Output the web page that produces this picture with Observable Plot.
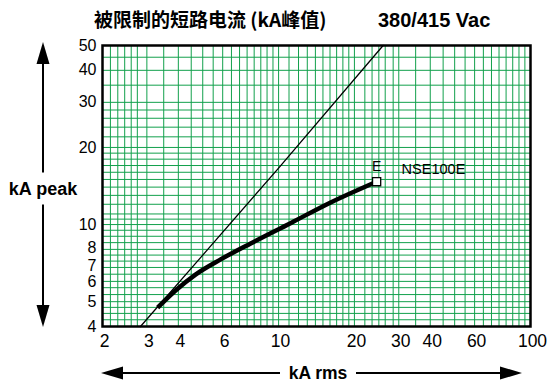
<!DOCTYPE html>
<html><head><meta charset="utf-8">
<script src="https://cdn.jsdelivr.net/npm/d3@7"></script>
<script src="https://cdn.jsdelivr.net/npm/@observablehq/plot@0.6"></script>
<style>
html,body{margin:0;padding:0;background:#fff;}
#wrap{position:relative;width:551px;height:383px;overflow:hidden;}
#title{position:relative;height:36px;}
#t1{position:absolute;left:94px;top:6px;font-family:"Noto Sans CJK SC",sans-serif;font-weight:bold;font-size:19px;line-height:26px;white-space:nowrap;}
#t2{position:absolute;left:378px;top:7px;font-family:"Liberation Sans",Arial,sans-serif;font-weight:bold;font-size:20px;line-height:26px;white-space:nowrap;}
svg{display:block;}
</style>
</head><body>
<div id="wrap">
  <div id="title"><span id="t1">被限制的短路电流 (kA峰值)</span><span id="t2">380/415 Vac</span></div>
  <div id="chart"></div>
</div>
<script>
// Tick labels
const xTicks = [2, 3, 4, 6, 10, 20, 30, 40, 60, 100];
const yTicks = [4, 5, 6, 7, 8, 10, 20, 30, 40, 50];
// Grid line values
const xGrid = [2.15, 2.3, 2.45, 2.6, 2.75, 3, 3.5, 4, 4.5, 5, 5.5, 6, 6.5, 7, 7.5, 8, 8.5, 9, 9.5, 10,
  11, 12, 13, 14, 15, 16, 17, 18, 19, 20, 22, 23.5, 25, 26.5, 28.5, 30, 35, 40, 45, 50, 55, 60, 65, 70, 75, 80, 85, 90, 95];
const yGrid = [4.25, 4.5, 4.75, 5, 5.33, 5.67, 6, 6.4, 6.8, 7.2, 7.6, 8, 8.5, 9, 9.5, 10, 10.5, 11, 12, 13, 14,
  15, 16, 17, 18, 19, 20, 22, 24, 26, 28, 30, 35, 40, 45];
// Unlimited peak line (kA rms -> kA peak)
const limitRms  = [2.83, 5, 10, 26];
const limitPeak = [4, 7.6, 16.6, 50];
// NSE100E limited peak curve
const curveRms  = [3.31, 3.9, 4.68, 5.89, 7.75, 11.2, 16.1, 24.5];
const curvePeak = [4.74, 5.53, 6.38, 7.31, 8.44, 10.15, 12.2, 14.7];
const deviceName = "NSE100E";
const deviceCode = "E";

const limitData = limitRms.map((x, i) => ({x, y: limitPeak[i]}));
const curveData = curveRms.map((x, i) => ({x, y: curvePeak[i]}));
const endPoint = [curveData[curveData.length - 1]];

const W = 551, H = 347, ML = 102, MR = 21, MT = 9, MB = 57;
const gridColor = "#12a04c";
const yLabelOpts = {frameAnchor: "left", textAnchor: "end", dx: -6, text: d => String(d), fontSize: 16, fill: "#000"};

const chart = Plot.plot({
  width: W, height: H,
  marginLeft: ML, marginRight: MR, marginTop: MT, marginBottom: MB,
  style: {fontFamily: "'Liberation Sans', Arial, sans-serif", fontSize: "18px", color: "#000", background: "#fff"},
  x: {type: "log", domain: [2, 100], axis: null},
  y: {type: "log", domain: [4, 50], axis: null},
  marks: [
    Plot.ruleX(xGrid, {stroke: gridColor, strokeWidth: 1}),
    Plot.ruleY(yGrid, {stroke: gridColor, strokeWidth: 1}),
    // tick labels
    Plot.text(xTicks, {x: d => d, frameAnchor: "bottom", lineAnchor: "top", dy: 8, dx: 2, text: d => String(d), fontSize: 17.5, fill: "#000"}),
    Plot.text(yTicks.filter(d => d !== 7 && d !== 8), {y: d => d, ...yLabelOpts}),
    Plot.text(yTicks.filter(d => d === 8), {y: d => d, ...yLabelOpts, dy: -2}),
    Plot.text(yTicks.filter(d => d === 7), {y: d => d, ...yLabelOpts, dy: 1.5}),
    Plot.line(limitData, {x: "x", y: "y", stroke: "#000", strokeWidth: 1.3}),
    Plot.line(curveData, {x: "x", y: "y", stroke: "#000", strokeWidth: 4.5, curve: "monotone-x", strokeLinecap: "butt"}),
    Plot.dot(endPoint, {x: "x", y: "y", symbol: "square", r: 4.6, fill: "#fff", stroke: "#000", strokeWidth: 1.3}),
    Plot.text(endPoint, {x: "x", y: "y", text: () => deviceCode, dy: -15, fontSize: 14, fill: "#000"}),
    Plot.text(endPoint, {x: "x", y: "y", text: () => deviceName, dx: 25, dy: -12, textAnchor: "start", fontSize: 14.5, fill: "#000", className: "devlabel"}),
    Plot.frame({stroke: "#000", strokeWidth: 2.5})
  ]
});

document.getElementById("chart").appendChild(chart);

// white box behind device label
const svg = d3.select(chart);
svg.selectAll(".devlabel text").each(function() {
  const b = this.getBBox();
  d3.select(this.parentNode).insert("rect", "text")
    .attr("x", b.x - 4).attr("y", b.y - 1).attr("width", b.width + 8).attr("height", b.height + 2)
    .attr("fill", "#fff");
});

// Axis direction arrows with labels
const frameBottom = H - MB;
const g = svg.append("g");
function arrowHead(x, y, dir) {
  const L = 22, w = 6.5;
  let pts;
  if (dir === "up") pts = [[x, y], [x - w, y + L], [x + w, y + L]];
  if (dir === "down") pts = [[x, y], [x - w, y - L], [x + w, y - L]];
  if (dir === "left") pts = [[x, y], [x + L, y - w], [x + L, y + w]];
  if (dir === "right") pts = [[x, y], [x - L, y - w], [x - L, y + w]];
  g.append("path").attr("d", "M" + pts.map(p => p.join(",")).join("L") + "Z").attr("fill", "#000");
}
// vertical (kA peak)
const ax = 43, yTop = MT - 3, yBot = frameBottom + 1, yMid = (yTop + yBot) / 2 + 4;
g.append("line").attr("x1", ax).attr("x2", ax).attr("y1", yTop + 10).attr("y2", yMid - 16).attr("stroke", "#000").attr("stroke-width", 2);
g.append("line").attr("x1", ax).attr("x2", ax).attr("y1", yMid + 16).attr("y2", yBot - 10).attr("stroke", "#000").attr("stroke-width", 2);
arrowHead(ax, yTop, "up");
arrowHead(ax, yBot, "down");
g.append("text").attr("x", ax).attr("y", yMid).attr("dy", "0.35em").attr("text-anchor", "middle")
  .attr("font-weight", "bold").attr("font-size", 18).attr("font-family", "'Liberation Sans', Arial, sans-serif")
  .text("kA peak");
// horizontal (kA rms)
const ay = frameBottom + 47, xL = ML - 1, xR = W - 29, xMid = 318;
g.append("line").attr("x1", xL + 10).attr("x2", xMid - 38).attr("y1", ay).attr("y2", ay).attr("stroke", "#000").attr("stroke-width", 2);
g.append("line").attr("x1", xMid + 38).attr("x2", xR - 10).attr("y1", ay).attr("y2", ay).attr("stroke", "#000").attr("stroke-width", 2);
arrowHead(xL, ay, "left");
arrowHead(xR, ay, "right");
g.append("text").attr("x", xMid).attr("y", ay).attr("dy", "0.35em").attr("text-anchor", "middle")
  .attr("font-weight", "bold").attr("font-size", 17.5).attr("font-family", "'Liberation Sans', Arial, sans-serif")
  .text("kA rms");
</script>
</body></html>
